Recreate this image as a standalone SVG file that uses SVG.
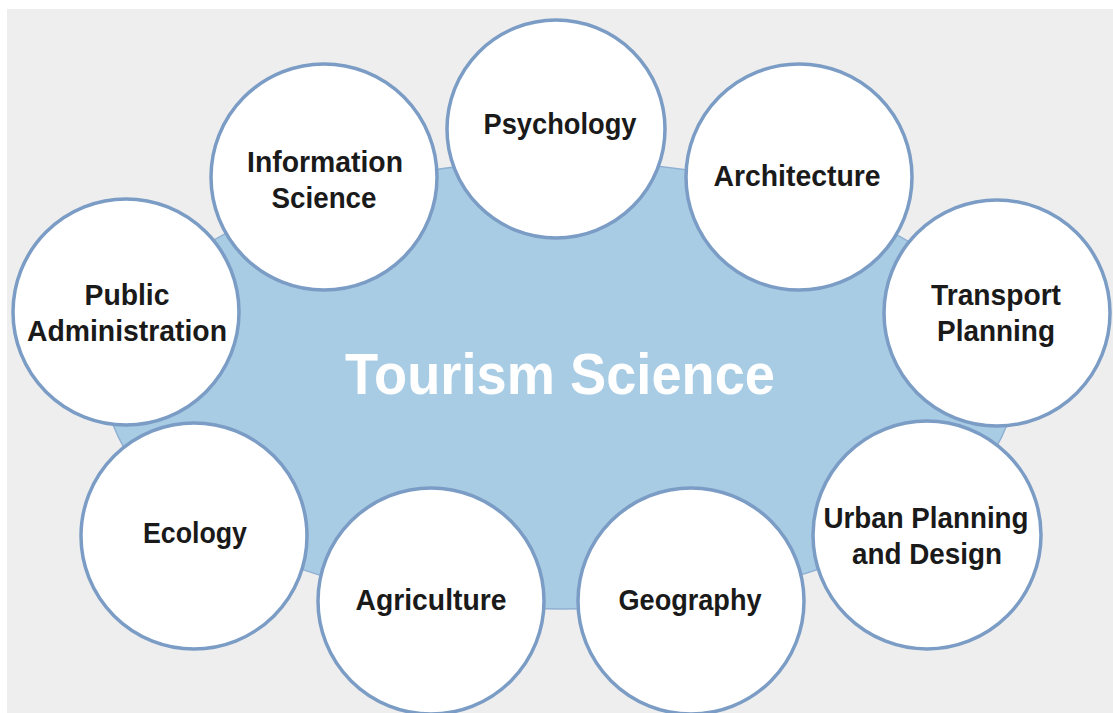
<svg xmlns="http://www.w3.org/2000/svg" width="1113" height="713" viewBox="0 0 1113 713">
<style>
.node circle{fill:#ffffff;stroke:#7b9cc5;stroke-width:3.5}
.lbl{font-family:"Liberation Sans",Arial,sans-serif;font-weight:bold;font-size:30px;fill:#1a1a1a;text-anchor:middle}
.title{font-family:"Liberation Sans",Arial,sans-serif;font-weight:bold;font-size:58px;fill:#ffffff;text-anchor:middle}
</style>
<rect x="0" y="0" width="1113" height="713" fill="#ffffff"/>
<rect x="7" y="9" width="1106" height="704" fill="#eeeeee"/>
<g id="center">
<ellipse cx="560" cy="385" rx="454" ry="224" fill="#a9cce5" stroke="#8fb0d2" stroke-width="1.5"/>
<text class="title" x="560" y="394" textLength="430" lengthAdjust="spacingAndGlyphs">Tourism Science</text>
</g>
<g id="connectors"></g>
<g id="psychology" class="node"><circle cx="556" cy="129" r="109"/><text class="lbl" x="560" y="134" textLength="153" lengthAdjust="spacingAndGlyphs">Psychology</text></g>
<g id="information-science" class="node"><circle cx="324" cy="177" r="113"/><text class="lbl" x="325" y="172" textLength="156" lengthAdjust="spacingAndGlyphs">Information</text><text class="lbl" x="324" y="208" textLength="105" lengthAdjust="spacingAndGlyphs">Science</text></g>
<g id="architecture" class="node"><circle cx="799" cy="177" r="113"/><text class="lbl" x="797" y="186" textLength="167" lengthAdjust="spacingAndGlyphs">Architecture</text></g>
<g id="public-administration" class="node"><circle cx="126" cy="312" r="113"/><text class="lbl" x="127" y="305" textLength="85" lengthAdjust="spacingAndGlyphs">Public</text><text class="lbl" x="127" y="341" textLength="200" lengthAdjust="spacingAndGlyphs">Administration</text></g>
<g id="transport-planning" class="node"><circle cx="997" cy="313" r="113"/><text class="lbl" x="996" y="305" textLength="130" lengthAdjust="spacingAndGlyphs">Transport</text><text class="lbl" x="996" y="341" textLength="118" lengthAdjust="spacingAndGlyphs">Planning</text></g>
<g id="ecology" class="node"><circle cx="194" cy="536" r="113"/><text class="lbl" x="195" y="543" textLength="104" lengthAdjust="spacingAndGlyphs">Ecology</text></g>
<g id="urban-planning" class="node"><circle cx="927" cy="535" r="114"/><text class="lbl" x="926" y="528" textLength="205" lengthAdjust="spacingAndGlyphs">Urban Planning</text><text class="lbl" x="927" y="564" textLength="150" lengthAdjust="spacingAndGlyphs">and Design</text></g>
<g id="agriculture" class="node"><circle cx="431" cy="601" r="113"/><text class="lbl" x="431" y="610" textLength="151" lengthAdjust="spacingAndGlyphs">Agriculture</text></g>
<g id="geography" class="node"><circle cx="691" cy="601" r="113"/><text class="lbl" x="690" y="610" textLength="143" lengthAdjust="spacingAndGlyphs">Geography</text></g>
</svg>
